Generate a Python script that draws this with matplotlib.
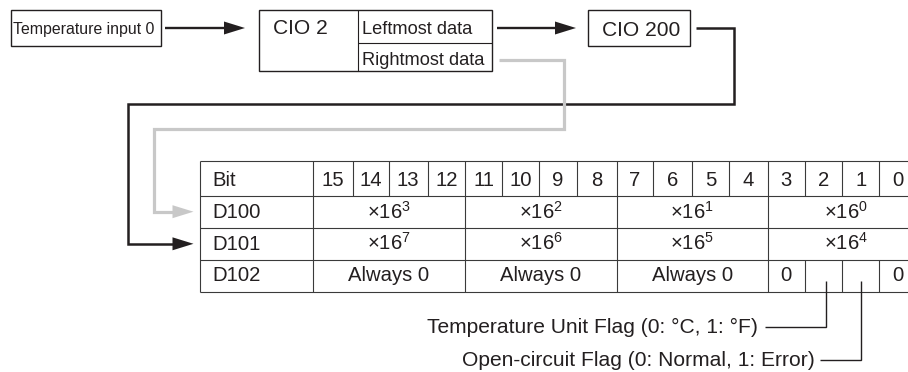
import matplotlib
matplotlib.use("Agg")
import matplotlib.pyplot as plt
from matplotlib.patches import Rectangle, Polygon

plt.rcParams['font.family'] = ['Liberation Sans', 'DejaVu Sans']
plt.rcParams['mathtext.fontset'] = 'custom'
plt.rcParams['mathtext.rm'] = 'Liberation Sans'

# ---- content ----
input_label = "Temperature input 0"
cio2_label = "CIO 2"
cio2_parts = ["Leftmost data", "Rightmost data"]
cio200_label = "CIO 200"
row_labels = ["Bit", "D100", "D101", "D102"]
bit_labels = ["15", "14", "13", "12", "11", "10", "9", "8",
              "7", "6", "5", "4", "3", "2", "1", "0"]
d100_exps = ["3", "2", "1", "0"]
d101_exps = ["7", "6", "5", "4"]
d102_groups = ["Always 0", "Always 0", "Always 0"]
d102_bits = ["0", "", "", "0"]
flag_labels = ["Temperature Unit Flag (0: \u00b0C, 1: \u00b0F)",
               "Open-circuit Flag (0: Normal, 1: Error)"]

INK = '#231f20'
GRAY = '#c8c8c8'
GRID = '#3a3a3a'

fig = plt.figure(figsize=(9.08, 3.72), dpi=100)
ax = fig.add_axes([0, 0, 1, 1])
ax.set_xlim(0, 908)
ax.set_ylim(372, 0)
ax.axis('off')

def pt(px):
    return px * 72 / 100

def box(x0, y0, x1, y1, lw=1.0, ec=INK):
    ax.add_patch(Rectangle((x0, y0), x1 - x0, y1 - y0, fill=False, ec=ec, lw=lw))

def line(xs, ys, color=INK, lw=1.7):
    ax.plot(xs, ys, color=color, lw=lw, solid_joinstyle='miter', solid_capstyle='butt')

def head(xtip, y, color=INK, length=21, half=6.5):
    ax.add_patch(Polygon([(xtip, y), (xtip - length, y - half), (xtip - length, y + half)],
                         closed=True, fc=color, ec='none'))

# ---- top row ----
box(11, 10, 161, 46)
ax.text(12.7, 34.3, input_label, fontsize=pt(15.9), color=INK, va='baseline', ha='left')
line([165, 226], [28, 28])
head(245, 28)

box(258.7, 10, 491.7, 71)
line([357.7, 357.7], [10, 71], lw=0.8)
line([357.7, 491.7], [42.7, 42.7], lw=0.8)
ax.text(273, 34.3, cio2_label, fontsize=pt(21), color=INK, va='baseline', ha='left')
ax.text(362.5, 33.5, cio2_parts[0], fontsize=pt(18.3), color=INK, va='baseline', ha='left')
ax.text(362.5, 65, cio2_parts[1], fontsize=pt(18.3), color=INK, va='baseline', ha='left')

line([497, 557], [28, 28])
head(576, 28)

box(587.7, 10, 690, 46)
ax.text(641, 35.5, cio200_label, fontsize=pt(21), color=INK, va='baseline', ha='center')

# ---- connectors ----
line([696, 734.3, 734.3, 127.7, 127.7, 175], [28.3, 28.3, 104.3, 104.3, 243.8, 243.8], lw=1.8)
head(193.5, 243.8)
line([499, 564.3, 564.3, 154.3, 154.3, 175], [60, 60, 129.3, 129.3, 211.7, 211.7],
     color=GRAY, lw=2.3)
head(193.5, 211.7, color=GRAY)

# ---- table ----
ys = [161, 195.7, 227.7, 260, 291.5]
xl, xlab = 200, 312.7
xs = [312.7, 352.7, 388.7, 427.7, 465, 502.3, 539.3, 576.7, 616.7,
      653.3, 691.7, 729.3, 767.7, 805, 842, 879.3, 916]
tlw = 0.8
for y in ys:
    line([xl, 930], [y, y], color=GRID, lw=tlw)
for x in [xl, xlab]:
    line([x, x], [ys[0], ys[-1]], color=GRID, lw=tlw)
# bit row separators
for x in xs[1:-1]:
    line([x, x], [ys[0], ys[1]], color=GRID, lw=tlw)
# group separators
for gi in (4, 8, 12):
    line([xs[gi], xs[gi]], [ys[1], ys[4]], color=GRID, lw=tlw)
# D102 bit separators
for x in xs[13:16]:
    line([x, x], [ys[3], ys[4]], color=GRID, lw=tlw)

fs_tab = pt(20.3)
baselines = [186, 218.5, 250.3, 281.3]
for lab, b in zip(row_labels, baselines):
    ax.text(212.7, b, lab, fontsize=fs_tab, color=INK, va='baseline', ha='left')
for i, lab in enumerate(bit_labels):
    ax.text((xs[i] + xs[i + 1]) / 2, baselines[0], lab, fontsize=fs_tab, color=INK,
            va='baseline', ha='center')
for g in range(4):
    right = xs[4 * g + 4] if g < 3 else 924
    cx = (xs[4 * g] + right) / 2
    ax.text(cx, baselines[1], "\u00d716$^{\\mathrm{%s}}$" % d100_exps[g], fontsize=fs_tab,
            color=INK, va='baseline', ha='center')
    ax.text(cx, baselines[2], "\u00d716$^{\\mathrm{%s}}$" % d101_exps[g], fontsize=fs_tab,
            color=INK, va='baseline', ha='center')
for g, lab in enumerate(d102_groups):
    cx = (xs[4 * g] + xs[4 * g + 4]) / 2
    ax.text(cx, baselines[3], lab, fontsize=fs_tab, color=INK, va='baseline', ha='center')
for j, lab in enumerate(d102_bits):
    if lab:
        i = 12 + j
        ax.text((xs[i] + xs[i + 1]) / 2, baselines[3], lab, fontsize=fs_tab, color=INK,
                va='baseline', ha='center')

# ---- flags ----
line([826.3, 826.3, 764.5], [281, 326.7, 326.7], lw=1.0)
line([860.7, 860.7, 820], [281, 360, 360], lw=1.0)
fs_flag = pt(21)
ax.text(757.5, 333.3, flag_labels[0], fontsize=fs_flag, color=INK, va='baseline', ha='right')
ax.text(814.5, 366, flag_labels[1], fontsize=fs_flag, color=INK, va='baseline', ha='right')

fig.savefig("out.png", dpi=100)
